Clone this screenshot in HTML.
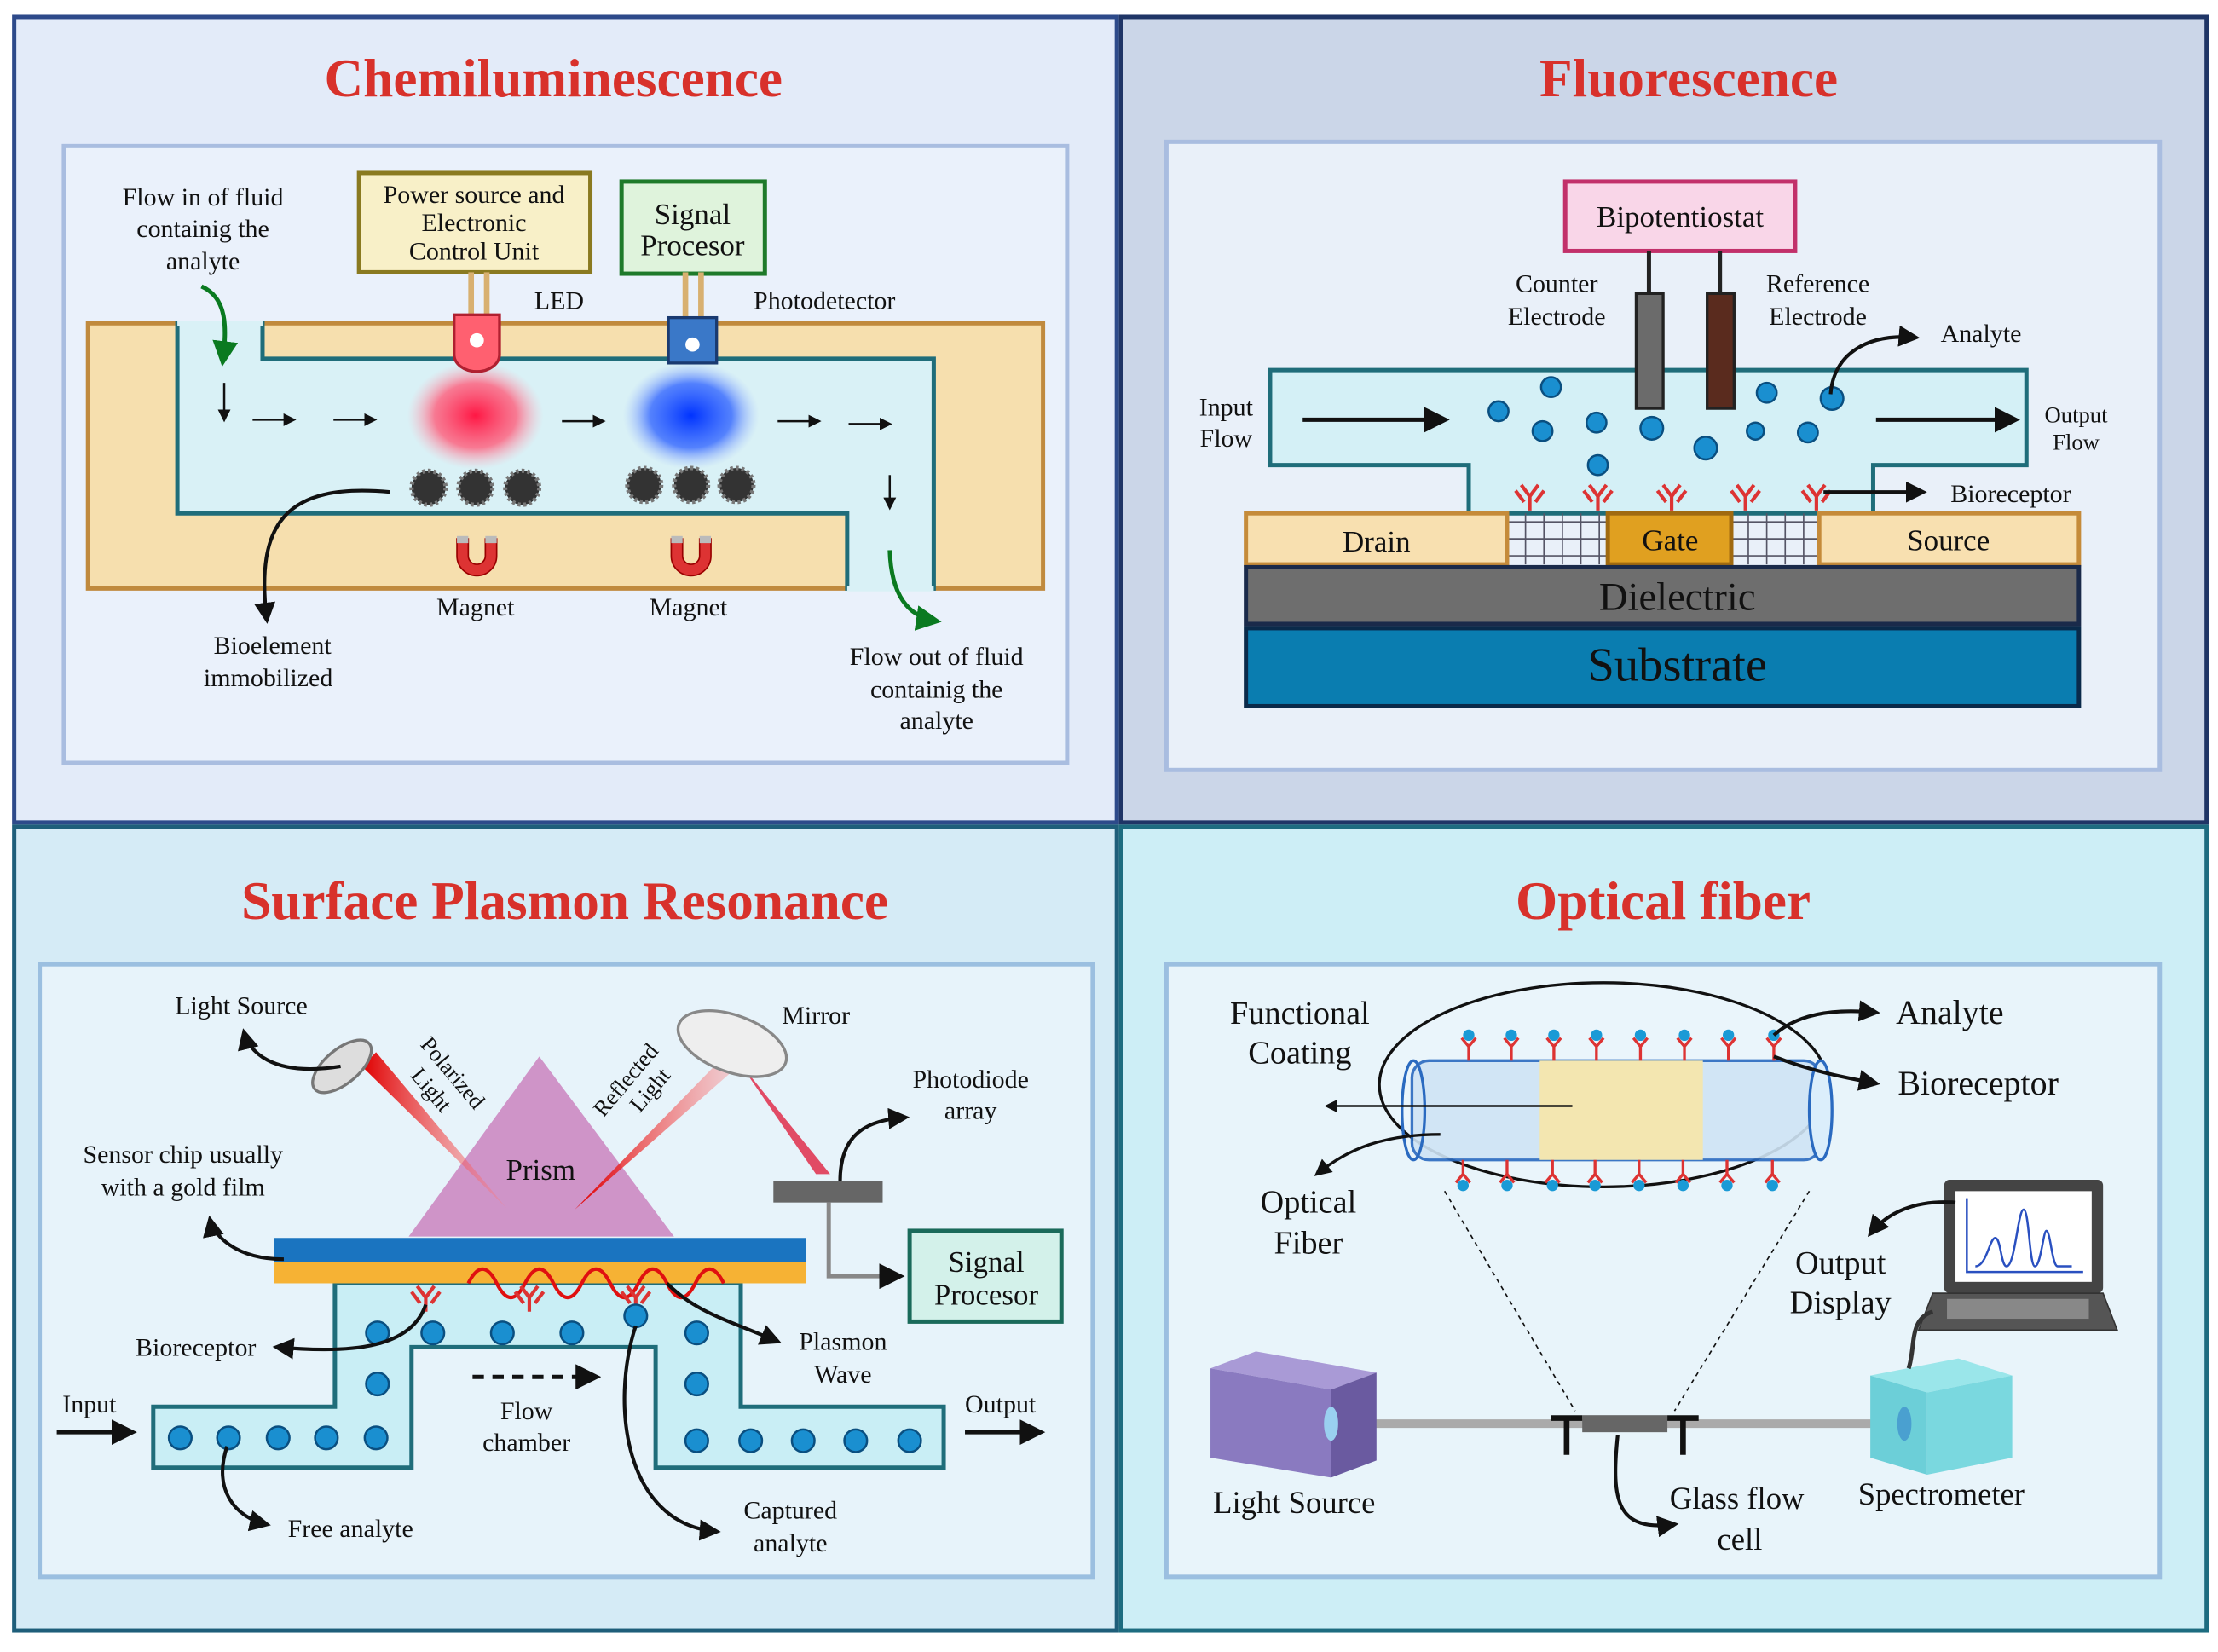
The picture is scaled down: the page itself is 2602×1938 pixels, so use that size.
<!DOCTYPE html>
<html><head><meta charset="utf-8"><style>
html,body{margin:0;padding:0;background:#fff}
svg{display:block}
text{font-family:"Liberation Serif",serif;fill:#111}
.t{font-weight:bold;fill:#d8312b;font-size:38px;text-anchor:middle}
.l{font-size:18px;text-anchor:middle}
.m{font-size:21px;text-anchor:middle}
</style></head><body>
<svg width="2602" height="1938" viewBox="0 0 1563 1165" preserveAspectRatio="none" xmlns="http://www.w3.org/2000/svg">
<defs>
<radialGradient id="gr"><stop offset="0" stop-color="#ff1744"/><stop offset=".6" stop-color="#ff5c7a" stop-opacity=".8"/><stop offset="1" stop-color="#ffb0c0" stop-opacity="0"/></radialGradient>
<radialGradient id="gb"><stop offset="0" stop-color="#0033ff"/><stop offset=".6" stop-color="#3366ff" stop-opacity=".8"/><stop offset="1" stop-color="#a0b8ff" stop-opacity="0"/></radialGradient>
<linearGradient id="beam" x1="0" x2="1"><stop offset="0" stop-color="#e00000"/><stop offset="1" stop-color="#ff8080" stop-opacity=".3"/></linearGradient>
<marker id="a" viewBox="0 0 10 10" refX="8" refY="5" markerWidth="6" markerHeight="6" orient="auto"><path d="M0,0L10,5L0,10z" fill="#111"/></marker>
<marker id="g" viewBox="0 0 10 10" refX="8" refY="5" markerWidth="6" markerHeight="6" orient="auto"><path d="M0,0L10,5L0,10z" fill="#0a7a20"/></marker>
<g id="bead"><circle r="12" fill="#333"/><circle r="12" fill="none" stroke="#777" stroke-width="3" stroke-dasharray="2 2"/></g>
<g id="mag"><path d="M-14,-12 v12 a14,14 0 0 0 28,0 v-12 h-8 v12 a6,6 0 0 1 -12,0 v-12z" fill="#d33" stroke="#900"/><rect x="-14" y="-14" width="8" height="5" fill="#bbb"/><rect x="6" y="-14" width="8" height="5" fill="#bbb"/></g>
<g id="ab" stroke="#d33" stroke-width="2.5" fill="none"><path d="M0,0 v-10 M0,-10 l-6,-8 M0,-10 l6,-8 M-4,-6 l-6,-8 M4,-6 l6,-8"/></g>
<g id="rc"><line x1="0" y1="0" x2="0" y2="-10" stroke="#d33" stroke-width="2"/><path d="M-5,-16 L0,-10 L5,-16" stroke="#d33" stroke-width="2" fill="none"/><circle cy="-18" r="4" fill="#1a9ad6"/></g>
<g id="ball"><circle r="8" fill="#1a8fd0" stroke="#0a4f80" stroke-width="1.5"/></g>
</defs>

<!-- panels -->
<rect x="10" y="12" width="777" height="568" fill="#e3ebf9" stroke="#2d4a8a" stroke-width="3"/>
<rect x="790" y="12" width="765" height="568" fill="#cbd6e8" stroke="#1f3566" stroke-width="3"/>
<rect x="10" y="583" width="777" height="567" fill="#d5ebf6" stroke="#1e5e7a" stroke-width="3"/>
<rect x="790" y="583" width="765" height="567" fill="#cdeef6" stroke="#1d6c80" stroke-width="3"/>
<rect x="45" y="103" width="707" height="435" fill="#eaf1fb" stroke="#a9bde0" stroke-width="3"/>
<rect x="822" y="100" width="700" height="443" fill="#e9f0f9" stroke="#a9bde0" stroke-width="3"/>
<rect x="28" y="680" width="742" height="432" fill="#e7f3fa" stroke="#9bbfe0" stroke-width="3"/>
<rect x="822" y="680" width="700" height="432" fill="#e8f4fa" stroke="#9bbfe0" stroke-width="3"/>

<text class="t" x="390" y="68">Chemiluminescence</text>
<text class="t" x="1190" y="68">Fluorescence</text>
<text class="t" x="398" y="648">Surface Plasmon Resonance</text>
<text class="t" x="1172" y="648">Optical fiber</text>

<!-- CHEMILUMINESCENCE -->
<rect x="62" y="228" width="673" height="187" fill="#f6dfae" stroke="#c08a3e" stroke-width="3"/>
<path d="M125,228 L185,228 L185,253 L658,253 L658,415 L597,415 L597,362 L125,362 Z" fill="#d9f1f6" stroke="#1f6d7a" stroke-width="3"/>
<path d="M125,228 L185,228" stroke="#d9f1f6" stroke-width="4"/>
<path d="M597,415 L658,415" stroke="#d9f1f6" stroke-width="4"/>
<rect x="253" y="122" width="163" height="70" fill="#f8f0c8" stroke="#8a7a20" stroke-width="3"/>
<text class="l" x="334" y="143">Power source and</text><text class="l" x="334" y="163">Electronic</text><text class="l" x="334" y="183">Control Unit</text>
<rect x="438" y="128" width="101" height="65" fill="#dff3dc" stroke="#1e7a2a" stroke-width="3"/>
<text class="m" x="488" y="158">Signal</text><text class="m" x="488" y="180">Procesor</text>
<text class="l" x="143" y="145">Flow in of fluid</text><text class="l" x="143" y="167">containig the</text><text class="l" x="143" y="190">analyte</text>
<path d="M142,202 C160,210 160,230 157,255" stroke="#0a7a20" stroke-width="3" fill="none" marker-end="url(#g)"/>
<text class="l" x="394" y="218">LED</text><text class="l" x="581" y="218">Photodetector</text>
<ellipse cx="335" cy="293" rx="48" ry="38" fill="url(#gr)"/>
<ellipse cx="487" cy="293" rx="48" ry="38" fill="url(#gb)"/>
<rect x="330" y="192" width="4" height="30" fill="#d8b070"/><rect x="341" y="192" width="4" height="30" fill="#d8b070"/>
<path d="M320,222 h32 v28 a16,12 0 0 1 -32,0z" fill="#ff6070" stroke="#b02030" stroke-width="2"/><circle cx="336" cy="240" r="5" fill="#fff"/>
<rect x="481" y="192" width="4" height="32" fill="#d8b070"/><rect x="492" y="192" width="4" height="32" fill="#d8b070"/>
<rect x="471" y="224" width="34" height="32" fill="#3a78c8" stroke="#1a3a70" stroke-width="2"/><circle cx="488" cy="243" r="5" fill="#fff"/>
<g stroke="#111" stroke-width="1.5" marker-end="url(#a)">
<line x1="158" y1="270" x2="158" y2="296"/><line x1="178" y1="296" x2="207" y2="296"/><line x1="235" y1="296" x2="264" y2="296"/>
<line x1="396" y1="297" x2="425" y2="297"/><line x1="548" y1="297" x2="577" y2="297"/><line x1="598" y1="299" x2="627" y2="299"/><line x1="627" y1="335" x2="627" y2="358"/></g>
<use href="#bead" x="302" y="344"/><use href="#bead" x="335" y="344"/><use href="#bead" x="368" y="344"/>
<use href="#bead" x="454" y="342"/><use href="#bead" x="487" y="342"/><use href="#bead" x="519" y="342"/>
<use href="#mag" x="336" y="392"/><use href="#mag" x="487" y="392"/>
<text class="l" x="335" y="434">Magnet</text><text class="l" x="485" y="434">Magnet</text>
<path d="M275,347 C200,340 180,370 188,437" stroke="#111" stroke-width="2.5" fill="none" marker-end="url(#a)"/>
<text class="l" x="192" y="461">Bioelement</text><text class="l" x="189" y="484">immobilized</text>
<path d="M627,388 C628,420 640,435 660,438" stroke="#0a7a20" stroke-width="3" fill="none" marker-end="url(#g)"/>
<text class="l" x="660" y="469">Flow out of fluid</text><text class="l" x="660" y="492">containig the</text><text class="l" x="660" y="514">analyte</text>

<!-- FLUORESCENCE -->
<path d="M895,261 L1428,261 L1428,328 L1320,328 L1320,362 L1035,362 L1035,328 L895,328Z" fill="#d4f0f6" stroke="#1f6d7a" stroke-width="3"/>
<rect x="1103" y="128" width="162" height="49" fill="#f9d6e8" stroke="#c2306a" stroke-width="3"/>
<text class="m" x="1184" y="160">Bipotentiostat</text>
<line x1="1162" y1="177" x2="1162" y2="207" stroke="#222" stroke-width="3"/><line x1="1212" y1="177" x2="1212" y2="207" stroke="#222" stroke-width="3"/>
<rect x="1153" y="207" width="19" height="81" fill="#6b6b6b" stroke="#222" stroke-width="2"/>
<rect x="1203" y="207" width="19" height="81" fill="#5a2b1e" stroke="#222" stroke-width="2"/>
<text class="l" x="1097" y="206">Counter</text><text class="l" x="1097" y="229">Electrode</text>
<text class="l" x="1281" y="206">Reference</text><text class="l" x="1281" y="229">Electrode</text>
<text class="l" x="864" y="293">Input</text><text class="l" x="864" y="315">Flow</text>
<text class="l" x="1463" y="298" style="font-size:16px">Output</text><text class="l" x="1463" y="317" style="font-size:16px">Flow</text>
<g stroke="#111" stroke-width="3" marker-end="url(#a)"><line x1="918" y1="296" x2="1018" y2="296"/><line x1="1322" y1="296" x2="1420" y2="296"/></g>
<g fill="#1a8fd0" stroke="#0a4f80" stroke-width="1.5">
<circle cx="1093" cy="273" r="7"/><circle cx="1056" cy="290" r="7"/><circle cx="1087" cy="304" r="7"/><circle cx="1125" cy="298" r="7"/><circle cx="1164" cy="302" r="8"/><circle cx="1202" cy="316" r="8"/><circle cx="1237" cy="304" r="6"/><circle cx="1245" cy="277" r="7"/><circle cx="1274" cy="305" r="7"/><circle cx="1291" cy="281" r="8"/><circle cx="1126" cy="328" r="7"/></g>
<path d="M1290,278 C1292,250 1315,235 1350,238" stroke="#111" stroke-width="2.5" fill="none" marker-end="url(#a)"/>
<text class="l" x="1396" y="241">Analyte</text>
<g><use href="#ab" x="1078" y="360"/><use href="#ab" x="1126" y="360"/><use href="#ab" x="1178" y="360"/><use href="#ab" x="1230" y="360"/><use href="#ab" x="1280" y="360"/></g>
<line x1="1285" y1="347" x2="1355" y2="347" stroke="#111" stroke-width="2.5" marker-end="url(#a)"/>
<text class="l" x="1417" y="354">Bioreceptor</text>
<g stroke="#556" stroke-width="1"><line x1="1062" y1="368" x2="1133" y2="368"/><line x1="1062" y1="380" x2="1133" y2="380"/><line x1="1062" y1="392" x2="1133" y2="392"/><line x1="1220" y1="368" x2="1282" y2="368"/><line x1="1220" y1="380" x2="1282" y2="380"/><line x1="1220" y1="392" x2="1282" y2="392"/>
<path d="M1075,362v36M1088,362v36M1101,362v36M1114,362v36M1127,362v36M1232,362v36M1245,362v36M1258,362v36M1271,362v36"/></g>
<rect x="878" y="362" width="184" height="36" fill="#f8e0b0" stroke="#c58b3a" stroke-width="3"/>
<rect x="1133" y="362" width="87" height="36" fill="#e0a020" stroke="#a06a10" stroke-width="3"/>
<rect x="1282" y="362" width="183" height="36" fill="#f8e0b0" stroke="#c58b3a" stroke-width="3"/>
<text class="m" x="970" y="389">Drain</text><text class="m" x="1177" y="388">Gate</text><text class="m" x="1373" y="388">Source</text>
<rect x="878" y="400" width="587" height="40" fill="#6e6e6e" stroke="#1a2a4a" stroke-width="3"/>
<text x="1182" y="430" style="font-size:28px;text-anchor:middle">Dielectric</text>
<rect x="878" y="443" width="587" height="55" fill="#0a7db0" stroke="#0a2a4a" stroke-width="3"/>
<text x="1182" y="480" style="font-size:34px;text-anchor:middle">Substrate</text>

<!-- SPR -->
<path d="M108,992 L236,992 L236,905 L522,905 L522,992 L665,992 L665,1035 L462,1035 L462,950 L290,950 L290,1035 L108,1035Z" fill="#c9eef5" stroke="#1f6d7a" stroke-width="3"/>
<polygon points="288,872 380,745 475,872" fill="#cf94c8"/>
<polygon points="255,752 265,742 357,852" fill="url(#beam)"/>
<polygon points="405,853 512,743 520,752" fill="url(#beam)"/>
<polygon points="520,748 575,828 585,828" fill="#e02040" opacity=".8"/>
<ellipse cx="241" cy="752" rx="25" ry="12" transform="rotate(-40 241 752)" fill="#ddd" stroke="#777" stroke-width="2"/>
<ellipse cx="516" cy="736" rx="40" ry="20" transform="rotate(20 516 736)" fill="#eee" stroke="#888" stroke-width="2"/>
<rect x="193" y="873" width="375" height="17" fill="#1a74c0"/>
<rect x="193" y="890" width="375" height="15" fill="#f6b234"/>
<path d="M330,905 q10,-20 20,0 q10,20 20,0 q10,-20 20,0 q10,20 20,0 q10,-20 20,0 q10,20 20,0 q10,-20 20,0 q10,20 20,0 q10,-20 20,0" stroke="#e01010" stroke-width="2.5" fill="none"/>
<text class="m" x="381" y="832">Prism</text>
<text class="l" x="170" y="715">Light Source</text><text class="l" x="575" y="722">Mirror</text>
<text class="l" x="315" y="760" transform="rotate(50 315 760)" style="font-size:16px">Polarized</text>
<text class="l" x="300" y="772" transform="rotate(50 300 772)" style="font-size:16px">Light</text>
<text class="l" x="445" y="765" transform="rotate(-50 445 765)" style="font-size:16px">Reflected</text>
<text class="l" x="462" y="772" transform="rotate(-50 462 772)" style="font-size:16px">Light</text>
<text class="l" x="684" y="767">Photodiode</text><text class="l" x="684" y="789">array</text>
<text class="l" x="129" y="820">Sensor chip usually</text><text class="l" x="129" y="843">with a gold film</text>
<rect x="545" y="833" width="77" height="15" fill="#666"/>
<path d="M584,848 v52 h50" stroke="#888" stroke-width="3" fill="none" marker-end="url(#a)"/>
<path d="M592,833 C592,800 610,790 638,788" stroke="#111" stroke-width="2.5" fill="none" marker-end="url(#a)"/>
<rect x="641" y="868" width="107" height="64" fill="#d3f1ea" stroke="#1a6a5a" stroke-width="3"/>
<text class="m" x="695" y="897">Signal</text><text class="m" x="695" y="920">Procesor</text>
<path d="M200,888 C165,888 150,870 148,860" stroke="#111" stroke-width="2.5" fill="none" marker-end="url(#a)"/>
<path d="M240,752 C190,760 175,740 172,728" stroke="#111" stroke-width="2.5" fill="none" marker-end="url(#a)"/>
<use href="#ab" x="300" y="925"/><use href="#ab" x="373" y="925"/><use href="#ab" x="448" y="925"/>
<g><use href="#ball" x="266" y="940"/><use href="#ball" x="305" y="940"/><use href="#ball" x="354" y="940"/><use href="#ball" x="403" y="940"/><use href="#ball" x="448" y="928"/><use href="#ball" x="491" y="940"/><use href="#ball" x="266" y="976"/><use href="#ball" x="491" y="976"/>
<use href="#ball" x="127" y="1014"/><use href="#ball" x="161" y="1014"/><use href="#ball" x="196" y="1014"/><use href="#ball" x="230" y="1014"/><use href="#ball" x="265" y="1014"/>
<use href="#ball" x="491" y="1016"/><use href="#ball" x="529" y="1016"/><use href="#ball" x="566" y="1016"/><use href="#ball" x="603" y="1016"/><use href="#ball" x="641" y="1016"/></g>
<path d="M300,920 C290,950 250,955 195,950" stroke="#111" stroke-width="2.5" fill="none" marker-end="url(#a)"/>
<text class="l" x="138" y="956">Bioreceptor</text>
<path d="M470,905 C490,925 510,930 548,946" stroke="#111" stroke-width="2.5" fill="none" marker-end="url(#a)"/>
<text class="l" x="594" y="952">Plasmon</text><text class="l" x="594" y="975">Wave</text>
<text class="l" x="63" y="996">Input</text><text class="l" x="705" y="996">Output</text>
<line x1="40" y1="1010" x2="93" y2="1010" stroke="#111" stroke-width="3" marker-end="url(#a)"/>
<line x1="680" y1="1010" x2="733" y2="1010" stroke="#111" stroke-width="3" marker-end="url(#a)"/>
<line x1="333" y1="971" x2="420" y2="971" stroke="#111" stroke-width="3" stroke-dasharray="8 6" marker-end="url(#a)"/>
<text class="l" x="371" y="1001">Flow</text><text class="l" x="371" y="1023">chamber</text>
<path d="M160,1020 C150,1050 165,1070 188,1075" stroke="#111" stroke-width="2.5" fill="none" marker-end="url(#a)"/>
<text class="l" x="247" y="1084">Free analyte</text>
<path d="M448,935 C430,990 440,1075 505,1080" stroke="#111" stroke-width="2.5" fill="none" marker-end="url(#a)"/>
<text class="l" x="557" y="1071">Captured</text><text class="l" x="557" y="1094">analyte</text>

<!-- OPTICAL FIBER -->
<ellipse cx="1130" cy="765" rx="158" ry="72" fill="#eaf5fb" stroke="#111" stroke-width="2"/>
<rect x="995" y="748" width="288" height="70" rx="12" fill="#cfe4f5" stroke="#2a6ac0" stroke-width="2" opacity=".9"/>
<rect x="1085" y="748" width="115" height="70" fill="#f3e6b0"/>
<ellipse cx="1283" cy="783" rx="8" ry="35" fill="#dbeefb" stroke="#2a6ac0" stroke-width="2"/>
<ellipse cx="996" cy="783" rx="8" ry="35" fill="none" stroke="#2a6ac0" stroke-width="2"/>
<g><use href="#rc" x="1035" y="748"/><use href="#rc" x="1065" y="748"/><use href="#rc" x="1095" y="748"/><use href="#rc" x="1125" y="748"/><use href="#rc" x="1156" y="748"/><use href="#rc" x="1187" y="748"/><use href="#rc" x="1218" y="748"/><use href="#rc" x="1250" y="748"/></g>
<g transform="translate(0,1566) scale(1,-1)"><use href="#rc" x="1031" y="748"/><use href="#rc" x="1062" y="748"/><use href="#rc" x="1094" y="748"/><use href="#rc" x="1124" y="748"/><use href="#rc" x="1155" y="748"/><use href="#rc" x="1186" y="748"/><use href="#rc" x="1217" y="748"/><use href="#rc" x="1249" y="748"/></g>
<line x1="1018" y1="840" x2="1110" y2="995" stroke="#111" stroke-dasharray="3 3"/>
<line x1="1275" y1="840" x2="1180" y2="995" stroke="#111" stroke-dasharray="3 3"/>
<text class="m" x="916" y="722" style="font-size:23px">Functional</text><text class="m" x="916" y="750" style="font-size:23px">Coating</text>
<text class="m" x="922" y="855" style="font-size:23px">Optical</text><text class="m" x="922" y="884" style="font-size:23px">Fiber</text>
<line x1="1108" y1="780" x2="935" y2="780" stroke="#111" stroke-width="1.5" marker-end="url(#a)"/>
<path d="M1015,800 C975,800 950,810 928,828" stroke="#111" stroke-width="2" fill="none" marker-end="url(#a)"/>
<path d="M1250,730 C1270,712 1300,712 1322,714" stroke="#111" stroke-width="2.5" fill="none" marker-end="url(#a)"/>
<path d="M1250,745 C1275,755 1300,760 1322,764" stroke="#111" stroke-width="2.5" fill="none" marker-end="url(#a)"/>
<text class="m" x="1374" y="722" style="font-size:24px">Analyte</text><text class="m" x="1394" y="772" style="font-size:24px">Bioreceptor</text>
<line x1="940" y1="1004" x2="1330" y2="1004" stroke="#aaa" stroke-width="6"/>
<rect x="1115" y="998" width="60" height="12" fill="#666"/>
<path d="M1093,1000h22M1104,1000v26M1175,1000h22M1186,1000v26" stroke="#111" stroke-width="4"/>
<polygon points="853,965 885,953 970,968 938,980" fill="#a99ad6"/>
<polygon points="853,965 938,980 938,1042 853,1028" fill="#8a7ac0"/>
<polygon points="938,980 970,968 970,1030 938,1042" fill="#6a5aa0"/>
<ellipse cx="938" cy="1004" rx="5" ry="12" fill="#9ad0f0"/>
<polygon points="1318,970 1380,958 1418,970 1358,982" fill="#9ae6ea"/>
<polygon points="1318,970 1358,982 1358,1040 1318,1028" fill="#6ccfd8"/>
<polygon points="1358,982 1418,970 1418,1028 1358,1040" fill="#7ad8df"/>
<ellipse cx="1342" cy="1004" rx="5" ry="12" fill="#4aa0d0"/>
<text class="m" x="912" y="1067" style="font-size:22px">Light Source</text>
<text class="m" x="1368" y="1061" style="font-size:22px">Spectrometer</text>
<text class="m" x="1224" y="1064" style="font-size:22px">Glass flow</text><text class="m" x="1226" y="1093" style="font-size:22px">cell</text>
<path d="M1140,1012 C1135,1060 1140,1080 1180,1075" stroke="#111" stroke-width="2.5" fill="none" marker-end="url(#a)"/>
<rect x="1370" y="832" width="112" height="80" rx="4" fill="#444"/>
<rect x="1378" y="840" width="96" height="64" fill="#fff"/>
<path d="M1386,845v52h82M1392,893 c8,0 10,-20 14,-20 c4,0 4,20 8,20 c6,0 8,-40 12,-40 c4,0 4,40 8,40 c4,0 6,-25 8,-25 c3,0 4,25 8,25h10" stroke="#2a50c0" stroke-width="1.5" fill="none"/>
<polygon points="1362,912 1482,912 1492,938 1352,938" fill="#555" stroke="#333"/>
<rect x="1372" y="916" width="100" height="14" fill="#888"/>
<path d="M1362,925 C1345,930 1350,950 1345,965" stroke="#333" stroke-width="3" fill="none"/>
<path d="M1378,848 C1350,846 1330,855 1318,870" stroke="#111" stroke-width="2.5" fill="none" marker-end="url(#a)"/>
<text class="m" x="1297" y="898" style="font-size:23px">Output</text><text class="m" x="1297" y="926" style="font-size:23px">Display</text>
</svg>
</body></html>
